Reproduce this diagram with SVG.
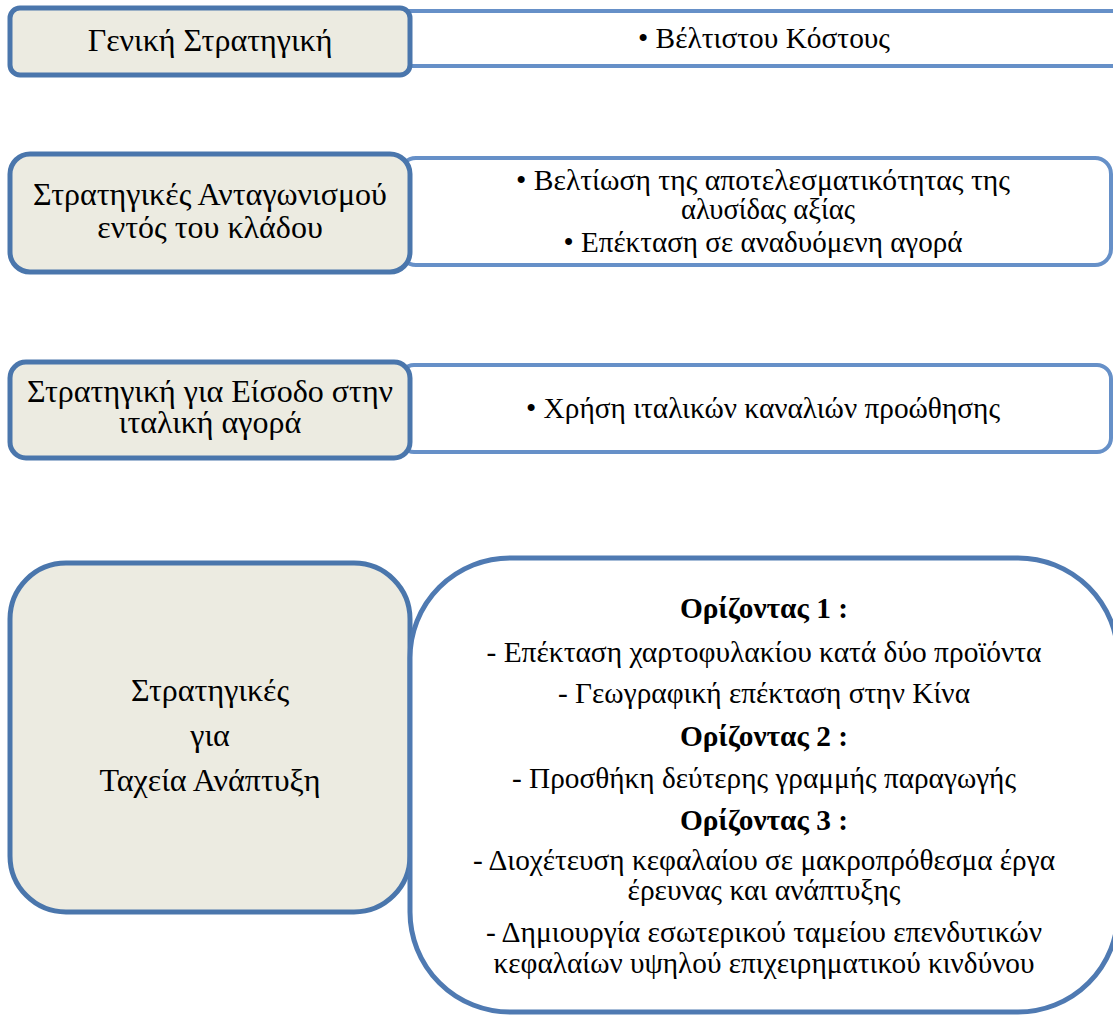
<svg xmlns="http://www.w3.org/2000/svg" width="1113" height="1015" viewBox="0 0 1113 1015">
<style>
.lb{fill:#ecebe1;stroke:#4a76ac;stroke-width:5}
.rb{fill:#ffffff;stroke:#6690c8;stroke-width:4}
.rb4{fill:#ffffff;stroke:#4f7ab2;stroke-width:5}
text{font-family:"Liberation Serif","Times New Roman",serif;text-anchor:middle;fill:#000}
.lt{font-size:32px}
.rt{font-size:30px}
.bt{font-size:30px;font-weight:bold}
</style>
<rect width="1113" height="1015" fill="#fff"/>
<g id="connectors"></g>
<g id="row1-right"><rect class="rb" x="400" y="11" width="740" height="55" rx="6"/><text class="rt" x="764" y="48" textLength="252" lengthAdjust="spacingAndGlyphs">• Βέλτιστου Κόστους</text></g>
<g id="row1-left"><rect class="lb" x="10" y="8" width="400" height="67" rx="10"/><text class="lt" x="210" y="51">Γενική Στρατηγική</text></g>
<g id="row2-right"><rect class="rb" x="400" y="158" width="711" height="107" rx="16"/><text class="rt" x="763" y="190" textLength="494" lengthAdjust="spacingAndGlyphs">• Βελτίωση της αποτελεσματικότητας της</text><text class="rt" x="768" y="219" textLength="174" lengthAdjust="spacingAndGlyphs">αλυσίδας αξίας</text><text class="rt" x="763" y="252" textLength="399" lengthAdjust="spacingAndGlyphs">• Επέκταση σε αναδυόμενη αγορά</text></g>
<g id="row2-left"><rect class="lb" x="10" y="154" width="400" height="118" rx="20"/><text class="lt" x="210" y="205">Στρατηγικές Ανταγωνισμού</text><text class="lt" x="210" y="238">εντός του κλάδου</text></g>
<g id="row3-right"><rect class="rb" x="400" y="365" width="711" height="87" rx="14"/><text class="rt" x="763" y="418" textLength="474" lengthAdjust="spacingAndGlyphs">• Χρήση ιταλικών καναλιών προώθησης</text></g>
<g id="row3-left"><rect class="lb" x="10" y="362" width="400" height="96" rx="16"/><text class="lt" x="210" y="402">Στρατηγική για Είσοδο στην</text><text class="lt" x="210" y="433">ιταλική αγορά</text></g>
<g id="row4-left"><rect class="lb" x="10" y="563" width="400" height="349" rx="56"/><text class="lt" x="210" y="701">Στρατηγικές</text><text class="lt" x="210" y="746">για</text><text class="lt" x="210" y="791">Ταχεία Ανάπτυξη</text></g>
<g id="row4-right"><rect class="rb4" x="410" y="558" width="708" height="454" rx="100"/>
<text class="bt" x="764" y="618" textLength="168" lengthAdjust="spacingAndGlyphs">Ορίζοντας 1 :</text>
<text class="rt" x="764" y="662" textLength="555" lengthAdjust="spacingAndGlyphs">- Επέκταση χαρτοφυλακίου κατά δύο προϊόντα</text>
<text class="rt" x="764" y="703" textLength="412" lengthAdjust="spacingAndGlyphs">- Γεωγραφική επέκταση στην Κίνα</text>
<text class="bt" x="764" y="746" textLength="168" lengthAdjust="spacingAndGlyphs">Ορίζοντας 2 :</text>
<text class="rt" x="764" y="788" textLength="504" lengthAdjust="spacingAndGlyphs">- Προσθήκη δεύτερης γραμμής παραγωγής</text>
<text class="bt" x="764" y="830" textLength="168" lengthAdjust="spacingAndGlyphs">Ορίζοντας 3 :</text>
<text class="rt" x="764" y="870" textLength="582" lengthAdjust="spacingAndGlyphs">- Διοχέτευση κεφαλαίου σε μακροπρόθεσμα έργα</text>
<text class="rt" x="764" y="900" textLength="273" lengthAdjust="spacingAndGlyphs">έρευνας και ανάπτυξης</text>
<text class="rt" x="764" y="942" textLength="556" lengthAdjust="spacingAndGlyphs">- Δημιουργία εσωτερικού ταμείου επενδυτικών</text>
<text class="rt" x="764" y="973" textLength="541" lengthAdjust="spacingAndGlyphs">κεφαλαίων υψηλού επιχειρηματικού κινδύνου</text>
</g>
</svg>
